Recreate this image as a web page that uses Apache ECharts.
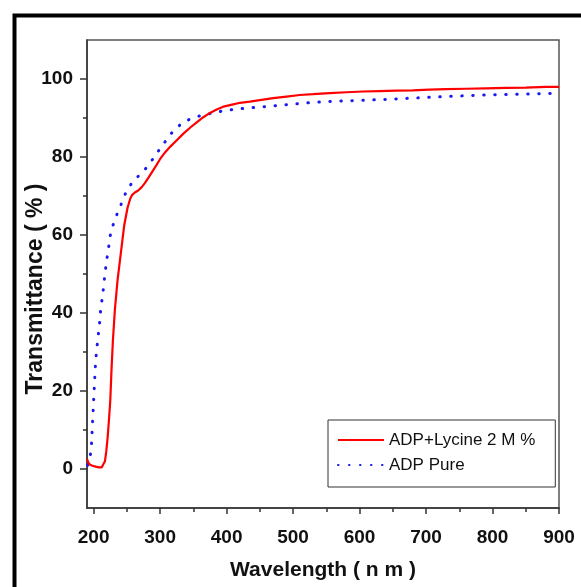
<!DOCTYPE html>
<html>
<head>
<meta charset="utf-8">
<script src="https://cdn.jsdelivr.net/npm/echarts@6/dist/echarts.min.js"></script>
<style>
html,body{margin:0;padding:0;background:#fff;}
#chart{width:581px;height:587px;}
</style>
</head>
<body>
<div id="chart"></div>
<script>
// ---- Data ----
const seriesNames = ['ADP+Lycine 2 M %', 'ADP Pure'];

const lycineWavelength = [190, 193, 197, 203, 208, 212, 215, 217, 219, 221, 223, 225, 227, 229, 232, 236, 241, 246, 251, 255, 258, 262, 267, 272, 277, 282, 288, 294, 300, 308, 315, 325, 335, 345, 355, 365, 375, 385, 395, 410, 420, 435, 450, 470, 490, 510, 530, 555, 580, 605, 630, 655, 680, 705, 730, 760, 790, 820, 850, 880, 900];
const lycineT = [2.5, 1.3, 0.9, 0.6, 0.4, 0.4, 0.9, 2, 4.5, 8, 12.5, 17.5, 26, 33, 41, 48.5, 55.5, 62.5, 67, 69.3, 70.3, 70.9, 71.4, 72.2, 73.3, 74.6, 76.2, 77.8, 79.5, 81.3, 82.6, 84.3, 86, 87.5, 88.9, 90.2, 91.3, 92.2, 92.9, 93.5, 93.9, 94.2, 94.6, 95.1, 95.5, 95.9, 96.1, 96.4, 96.6, 96.8, 96.9, 97.0, 97.1, 97.3, 97.4, 97.5, 97.6, 97.7, 97.8, 98.0, 98.0];

const pureWavelength = [191, 194, 196.5, 197.5, 198.5, 199.5, 200.5, 201.5, 202.5, 204, 206, 208.5, 210, 212.5, 215, 217, 219.6, 222.6, 225.6, 231.6, 240, 248, 259, 275, 290, 303, 318, 334, 352, 368, 385, 400, 417, 435, 450, 483, 515, 548, 580, 630, 680, 730, 786, 840, 887, 900];
const pureT = [1.0, 2.2, 5.5, 8.8, 12.4, 15.8, 19.2, 22.7, 26.1, 29.5, 32.9, 36.5, 39.9, 43.3, 46.7, 50.1, 53.5, 56.9, 60.5, 63.9, 67.3, 70.7, 73.8, 76.3, 79.7, 82.9, 86.3, 88.9, 90.2, 90.9, 91.5, 92.0, 92.3, 92.6, 92.8, 93.3, 93.8, 94.2, 94.4, 94.7, 95.1, 95.5, 95.9, 96.1, 96.3, 96.4];

const xMajorTicks = [200, 300, 400, 500, 600, 700, 800, 900];
const xMinorTicks = [250, 350, 450, 550, 650, 750, 850];
const yMajorTicks = [0, 20, 40, 60, 80, 100];
const yMinorTicks = [10, 30, 50, 70, 90];

// ---- Chart ----
const FONT = '"Liberation Sans", Arial, sans-serif';
const AXIS_COLOR = '#333';
const chart = echarts.init(document.getElementById('chart'), null, {renderer: 'canvas'});

function pairs(xs, ys) { return xs.map((x, i) => [x, ys[i]]); }

const xBase = {
  type: 'value', min: 190, max: 900, gridIndex: 0, position: 'bottom',
  splitLine: {show: false}
};
const yBase = {
  type: 'value', min: -10, max: 110, gridIndex: 0, position: 'left',
  splitLine: {show: false}
};

chart.setOption({
  animation: false,
  backgroundColor: '#fff',
  graphic: [{
    type: 'rect', left: 12, top: 13, z: -10,
    shape: {width: 620, height: 620},
    style: {fill: 'none', stroke: '#000', lineWidth: 4}
  }],
  grid: {
    left: 87, right: 22, top: 40, bottom: 79,
    show: true, borderColor: '#555', borderWidth: 1.5, backgroundColor: 'transparent'
  },
  legend: {
    orient: 'vertical',
    left: 328, top: 420,
    data: seriesNames,
    itemWidth: 46, itemHeight: 14, itemGap: 5,
    padding: [10, 20, 12, 9],
    borderColor: '#333', borderWidth: 1, backgroundColor: '#fff',
    itemStyle: {opacity: 0},
    textStyle: {fontFamily: FONT, fontSize: 17, color: '#111', lineHeight: 20}
  },
  xAxis: [
    Object.assign({}, xBase, {
      axisLine: {show: true, onZero: false, lineStyle: {color: AXIS_COLOR, width: 1.5}},
      axisTick: {show: true, inside: false, length: 6, customValues: xMajorTicks,
                 lineStyle: {color: AXIS_COLOR, width: 1.5}},
      axisLabel: {customValues: xMajorTicks, margin: 20, fontFamily: FONT,
                  fontSize: 19, fontWeight: 'bold', color: '#111'},
      name: 'Wavelength ( n m )', nameLocation: 'middle', nameGap: 52,
      nameMoveOverlap: false,
      nameTextStyle: {fontFamily: FONT, fontSize: 21, fontWeight: 'bold', color: '#111'}
    }),
    Object.assign({}, xBase, {
      axisLine: {show: false, onZero: false},
      axisTick: {show: true, inside: false, length: 4, customValues: xMinorTicks,
                 lineStyle: {color: AXIS_COLOR, width: 1.5}},
      axisLabel: {show: false}
    })
  ],
  yAxis: [
    Object.assign({}, yBase, {
      axisLine: {show: true, onZero: false, lineStyle: {color: AXIS_COLOR, width: 1.5}},
      axisTick: {show: true, inside: false, length: 7, customValues: yMajorTicks,
                 lineStyle: {color: AXIS_COLOR, width: 1.5}},
      axisLabel: {customValues: yMajorTicks, margin: 14, fontFamily: FONT,
                  fontSize: 19, fontWeight: 'bold', color: '#111'},
      name: 'Transmittance ( % )', nameLocation: 'middle', nameGap: 40,
      nameMoveOverlap: false,
      nameTextStyle: {fontFamily: FONT, fontSize: 23, fontWeight: 'bold', color: '#111',
                      padding: [0, 30, 0, 0]}
    }),
    Object.assign({}, yBase, {
      axisLine: {show: false, onZero: false},
      axisTick: {show: true, inside: false, length: 4, customValues: yMinorTicks,
                 lineStyle: {color: AXIS_COLOR, width: 1.5}},
      axisLabel: {show: false}
    })
  ],
  series: [
    {
      name: seriesNames[0], type: 'line', xAxisIndex: 0, yAxisIndex: 0,
      symbol: 'none', smooth: false, z: 3,
      lineStyle: {color: '#ff0000', width: 2.2},
      itemStyle: {color: '#ff0000'},
      data: pairs(lycineWavelength, lycineT)
    },
    {
      name: seriesNames[1], type: 'line', xAxisIndex: 0, yAxisIndex: 0,
      symbol: 'none', smooth: false, z: 2,
      lineStyle: {color: '#1a1aee', width: 3, type: [0.5, 10.5], cap: 'round'},
      itemStyle: {color: '#1a1aee'},
      data: pairs(pureWavelength, pureT)
    }
  ]
});
</script>
</body>
</html>
